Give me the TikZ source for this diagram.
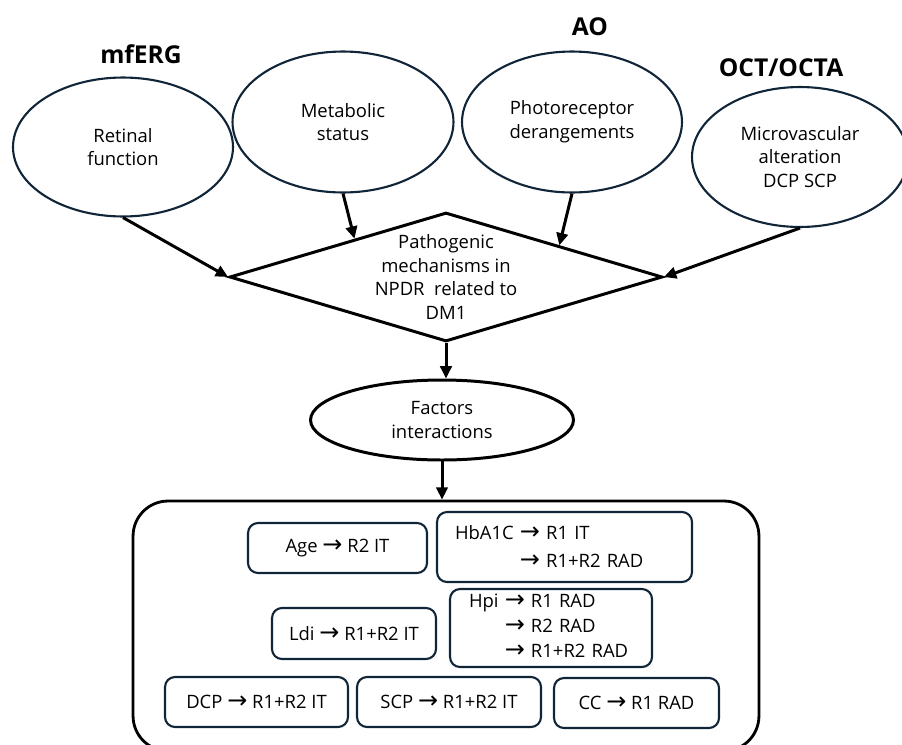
\documentclass[tikz,border=0pt]{standalone}
\usepackage{fontspec}
\setmainfont{Open Sans}
\newfontfamily\arrowfont[Scale=1.3]{DejaVu Sans}
\usetikzlibrary{shapes.geometric}
\usetikzlibrary{arrows.meta}
\usetikzlibrary{calc}

\definecolor{ringnavy}{RGB}{16,37,56}
\newcommand{\rto}{{\arrowfont\char"2192}}

\tikzset{
  bubble/.style={ellipse,draw=ringnavy,line width=1.2pt,inner sep=0pt,align=center,font=\fontsize{10.5}{13.5}\selectfont},
  tool/.style={font=\fontsize{14}{16}\selectfont\bfseries},
  factbox/.style={rectangle,rounded corners=0.2cm,draw=ringnavy,line width=1.2pt,inner sep=0pt,align=center,font=\fontsize{10.5}{14}\selectfont},
  flow/.style={line width=1.7pt,-{Triangle[length=7pt,width=6.5pt]}},
}

\begin{document}
\begin{tikzpicture}[x=0.02cm,y=-0.02cm]
\useasboundingbox (0,0) rectangle (902,744);
\clip (0,0) rectangle (902,744);

% measuring methods
\node[tool] (erg) at (141,54) {mfERG};
\node[tool] (ao) at (590,27) {AO};
\node[tool] (octa) at (781,68) {OCT/OCTA};

\node[bubble,minimum width=4.4cm,minimum height=2.78cm] (ret) at (123,147) {Retinal\\function};
\node[bubble,minimum width=4.42cm,minimum height=2.82cm] (meta) at (343,122) {Metabolic\\status};
\node[bubble,minimum width=4.4cm,minimum height=2.82cm] (photo) at (572,122) {Photoreceptor\\derangements};
\node[bubble,minimum width=4.32cm,minimum height=2.8cm] (micro) at (800,157) {Microvascular\\alteration\\DCP SCP};

\node[diamond,draw,line width=1.7pt,aspect=3.36,inner sep=0pt,minimum width=8.66cm,minimum height=2.58cm,align=center,font=\fontsize{10.5}{13.5}\selectfont] (diam) at (446,277) {Pathogenic\\mechanisms in\\NPDR\ \ related to\\DM1};

\node[ellipse,draw,line width=1.7pt,inner sep=0pt,minimum width=5.26cm,minimum height=1.6cm,align=center,font=\fontsize{10.5}{14}\selectfont] (factors) at (442,420) {Factors\\interactions};

\draw[flow] (ret.south) -- (diam.west);
\draw[flow] (meta.south) -- ($(diam.north)!0.42!(diam.west)$);
\draw[flow] (photo.south) -- ($(diam.north)!0.52!(diam.east)$);
\draw[flow] (micro.south) -- (diam.east);
\draw[flow] (diam.south) -- (diam.south |- factors.north);

% results panel
\node[draw,line width=1.6pt,rounded corners=0.7cm,minimum width=12.52cm,minimum height=5cm] (panel) at (446,626) {};
\draw[flow] (factors.south) -- (factors.south |- panel.north);

\node[factbox,minimum width=3.58cm,minimum height=1cm] (age) at (337.5,548) {Age \rto{} R2 IT};
\node[factbox,minimum width=5.1cm,minimum height=1.4cm,align=left,text width=4.38cm,inner xsep=0.36cm] (hba) at (564.5,547) {HbA1C \rto{} R1 IT\\[2pt]\phantom{HbA1C }\rto{} R1+R2 RAD};
\node[factbox,minimum width=3.28cm,minimum height=1.02cm] (ldi) at (354,633.5) {Ldi \rto{} R1+R2 IT};
\node[factbox,minimum width=4.04cm,minimum height=1.56cm,align=left,text width=3.28cm,inner xsep=0.38cm] (hpi) at (551,628) {Hpi \rto{} R1 RAD\\\phantom{Hpi }\rto{} R2 RAD\\\phantom{Hpi }\rto{} R1+R2 RAD};
\node[factbox,minimum width=3.66cm,minimum height=1cm] (dcp) at (256.5,702) {DCP \rto{} R1+R2 IT};
\node[factbox,minimum width=3.68cm,minimum height=1cm] (scp) at (449,702) {SCP \rto{} R1+R2 IT};
\node[factbox,minimum width=3.3cm,minimum height=1cm] (cc) at (636.5,703) {CC \rto{} R1 RAD};
\end{tikzpicture}
\end{document}
